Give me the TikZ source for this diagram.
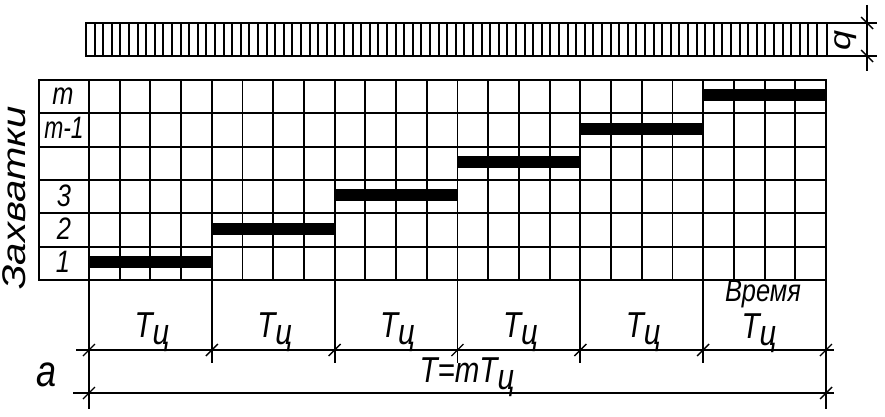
\documentclass[tikz,border=0pt]{standalone}
\usepackage{fontspec}
\setmainfont{Liberation Sans}
\usepackage{tikz}
\usetikzlibrary{positioning}
\tikzset{
  gridline/.style={line width=1.9pt},
  frameline/.style={line width=2.4pt},
  barline/.style={line width=12pt},
  hatchline/.style={line width=2pt},
  dimline/.style={line width=1.8pt},
  tickline/.style={line width=1.4pt},
  lbl/.style={font=\fontsize{36}{36}\selectfont\itshape, inner sep=0pt, xscale=.82, anchor=base},
  rowlbl/.style={lbl, font=\fontsize{31}{31}\selectfont\itshape},
}
\newcommand{\Tc}{T\raisebox{-.4ex}{ц}}

\begin{document}
\begin{tikzpicture}[x=1pt,y=1pt]
  \useasboundingbox (0,0) rectangle (885,-417);
  \foreach \i in {1,...,85}
    \draw[hatchline] ({86+\i*8.6},-23) -- ++(0,-33);
  \draw[frameline] (86,-23) rectangle (827,-56);
  \draw[dimline] (827,-23) -- (877,-23);
  \draw[dimline] (827,-56) -- (877,-56);
  \draw[dimline] (867,-5) -- (867,-71);
  \draw[tickline] (861,-17) -- ++(12,-12);
  \draw[tickline] (861,-50) -- ++(12,-12);
  \node[lbl, anchor=center, rotate=90] (q) at (846,-40) {q};
  \foreach \k in {1,...,23}
    \draw[gridline] ({89+\k*30.708},-80) -- ++(0,-200);
  \foreach \r in {1,...,5}
    \draw[gridline] (39,{-80-\r*33.333}) -- (826,{-80-\r*33.333});
  \draw[frameline] (39,-80) rectangle (826,-280);
  \draw[frameline] (89,-80) -- (89,-280);
  \foreach \p in {0,...,5}
    \draw[barline] ({89+\p*122.83},{-262+\p*33.333}) -- ++(122.83,0);
  \node[rowlbl] (r1) at (63,-272) {1};
  \node[rowlbl] (r2) at (64,-239) {2};
  \node[rowlbl] (r3) at (64,-206) {3};
  \node[rowlbl, xscale=.9] (rm1) at (64,-138) {m-1};
  \node[rowlbl] (rm) at (63,-105) {m};
  \node[lbl, anchor=center, font=\fontsize{40}{40}\selectfont\itshape, rotate=90] (zah) at (14,-198) {Захватки};
  \foreach \p in {1,...,5}
    \draw[dimline] ({89+\p*122.83},-280) -- ++(0,-83);
  \draw[dimline] (89,-280) -- (89,-409);
  \draw[dimline] (826,-280) -- (826,-409);
  \draw[dimline] (76,-350) -- (834,-350);
  \draw[dimline] (73,-393) -- (834,-393);
  \foreach \p in {0,...,6}
    \draw[tickline] ({83+\p*122.83},-356) -- ++(12,12);
  \draw[tickline] (83,-399) -- ++(12,12);
  \draw[tickline] (820,-399) -- ++(12,12);
  \foreach \p in {0,...,4}
    \node[lbl] (t\p) at ({152+\p*122.83},-337) {\Tc};
  \node[lbl] (t5) at (759,-338) {\Tc};
  \node[lbl, font=\fontsize{31}{31}\selectfont\itshape] (time) at (763,-301) {Время};
  \node[lbl] (total) at (467,-382) {T=m\Tc};
  \node[lbl, font=\fontsize{44}{44}\selectfont\itshape] (a) at (47,-386) {а};
\end{tikzpicture}
\end{document}
